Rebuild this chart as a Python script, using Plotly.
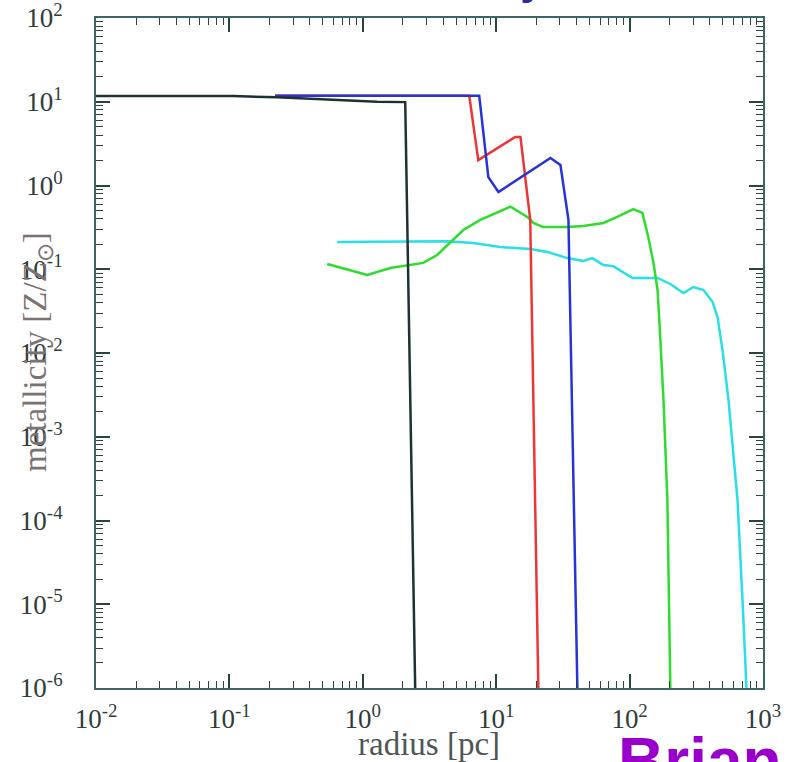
import plotly.graph_objects as go

# ---- data (radius in pc, metallicity in Z/Zsun) ----
black_r = [0.01, 0.107, 0.228, 1.28, 2.08, 2.47]
black_z = [11.7, 11.7, 11.3, 10.0, 9.9, 1e-6]

red_r = [0.22, 6.28, 7.34, 13.9, 15.2, 18.0, 20.7]
red_z = [11.8, 11.8, 2.01, 3.79, 3.79, 0.388, 1e-6]

blue_r = [0.22, 7.46, 8.73, 10.4, 25.5, 30.3, 34.8, 40.6]
blue_z = [11.8, 11.8, 1.26, 0.836, 2.13, 1.76, 0.388, 1e-6]

green_r = [0.541, 1.08, 1.605, 2.27, 2.84, 3.61, 4.53, 5.67, 7.6, 12.8, 17.1, 19.0,
           22.5, 34.1, 45, 63.6, 80.9, 106.6, 124.7, 138, 151, 162, 167, 179.5, 192, 202]
green_z = [0.1156, 0.0853, 0.1035, 0.1124, 0.119, 0.148, 0.211, 0.294, 0.388, 0.56,
           0.421, 0.357, 0.319, 0.319, 0.328, 0.357, 0.421, 0.524, 0.47, 0.243, 0.119,
           0.0565, 0.0248, 2.75e-3, 1.76e-4, 1e-6]

cyan_r = [0.643, 1.91, 4.30, 6.73, 10.7, 18.0, 24.2, 34.1, 45.0, 52.6, 63.6, 75.5, 105,
          162, 202, 253, 301, 358, 419, 456, 497, 551, 601, 644, 702, 752]
cyan_z = [0.211, 0.216, 0.216, 0.206, 0.184, 0.175, 0.161, 0.136, 0.1255, 0.136, 0.1124,
          0.109, 0.0787, 0.0787, 0.0667, 0.052, 0.0614, 0.0565, 0.0406, 0.0269, 0.0109,
          2.75e-3, 5.28e-4, 1.76e-4, 1.12e-5, 1e-6]

x_tickvals = [1e-2, 1e-1, 1e0, 1e1, 1e2, 1e3]
x_ticktext = ["10<sup>-2</sup>", "10<sup>-1</sup>", "10<sup>0</sup>",
              "10<sup>1</sup>", "10<sup>2</sup>", "10<sup>3</sup>"]
y_tickvals = [1e-6, 1e-5, 1e-4, 1e-3, 1e-2, 1e-1, 1e0, 1e1, 1e2]
y_ticktext = ["10<sup>-6</sup>", "10<sup>-5</sup>", "10<sup>-4</sup>", "10<sup>-3</sup>",
              "10<sup>-2</sup>", "10<sup>-1</sup>", "10<sup>0</sup>", "10<sup>1</sup>",
              "10<sup>2</sup>"]

series = [
    (cyan_r, cyan_z, "#27dfe6"),
    (green_r, green_z, "#2ddc2d"),
    (red_r, red_z, "#ec3636"),
    (blue_r, blue_z, "#2633d6"),
    (black_r, black_z, "#1d3232"),
]

fig = go.Figure()
for xs, ys, col in series:
    fig.add_trace(go.Scatter(x=xs, y=ys, mode="lines",
                             line=dict(color=col, width=2.5), showlegend=False))

W, H = 789, 762
ML, MR, MT, MB = 96, 26, 18, 74
tickfont = dict(family="Liberation Serif, Times New Roman, serif", size=27, color="#2f3c3c")
axcommon = dict(
    type="log", showgrid=False, zeroline=False, automargin=False,
    ticklabeloverflow="allow",
    showline=True, linecolor="#3a6666", linewidth=2, mirror="allticks",
    ticks="inside", ticklen=14, tickwidth=1.5, tickcolor="#2a4444",
    minor=dict(ticks="inside", ticklen=7, tickwidth=1.2, tickcolor="#2a4444",
               dtick="D1", showgrid=False),
    tickfont=tickfont,
)

fig.update_xaxes(range=[-2, 3], tickvals=x_tickvals, ticktext=x_ticktext,
                 ticklabelstandoff=6, **axcommon)
fig.update_yaxes(range=[-6, 2], tickvals=y_tickvals, ticktext=y_ticktext,
                 ticklabelstandoff=26, **axcommon)

def px2paper_x(px):
    return (px - ML) / (W - ML - MR)

def px2paper_y(py):
    return (H - MB - py) / (H - MT - MB)

fig.add_annotation(text="radius [pc]", xref="paper", yref="paper",
                   x=px2paper_x(429), y=px2paper_y(744), xanchor="center", yanchor="middle",
                   showarrow=False,
                   font=dict(family="Liberation Serif, Times New Roman, serif", size=33,
                             color="#4e5656"))
fig.add_annotation(text="metallicity [Z/Z<sub>⊙</sub>]", xref="paper", yref="paper",
                   x=px2paper_x(37), y=px2paper_y(352), xanchor="center", yanchor="middle",
                   textangle=-90, showarrow=False,
                   font=dict(family="Liberation Serif, Times New Roman, serif", size=33,
                             color="#7d7272"))
fig.add_annotation(text="<b>Brian</b>", xref="paper", yref="paper",
                   x=px2paper_x(616), y=px2paper_y(723), xanchor="left", yanchor="top",
                   showarrow=False,
                   font=dict(family="Liberation Sans, Arial, sans-serif", size=64,
                             color="#9a00cc"))
fig.add_annotation(text="<b>Metallicity</b>", xref="paper", yref="paper",
                   x=px2paper_x(547), y=px2paper_y(5), xanchor="right", yanchor="bottom",
                   showarrow=False,
                   font=dict(family="Liberation Sans, Arial, sans-serif", size=44,
                             color="#2a2a9c"))

fig.update_layout(width=W, height=H, margin=dict(l=ML, r=MR, t=MT, b=MB),
                  plot_bgcolor="white", paper_bgcolor="white")

fig.write_html("out.html")
